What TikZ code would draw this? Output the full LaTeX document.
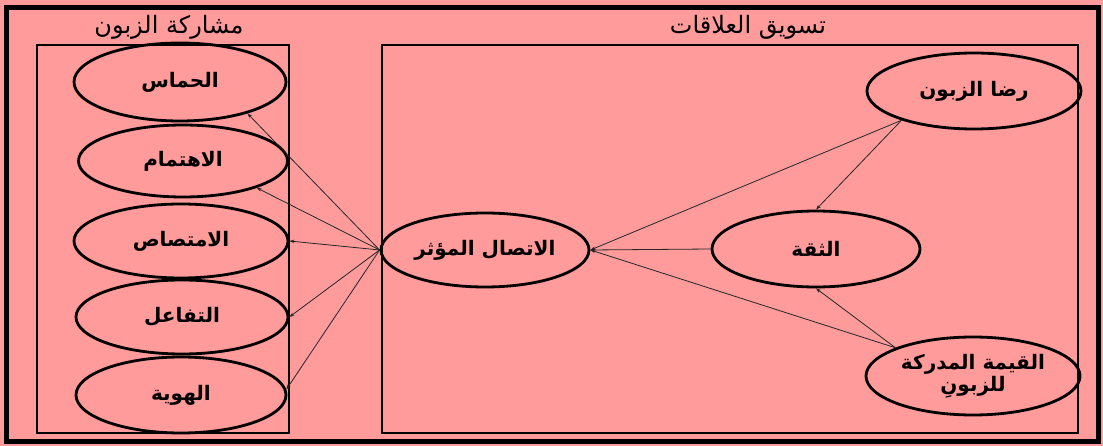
\documentclass[tikz,border=0pt]{standalone}
\usepackage{fontspec}
\usetikzlibrary{shapes.geometric,arrows.meta}
\TeXXeTstate=1
\newfontfamily\arabicfont[Script=Arabic]{DejaVu Sans}
\definecolor{bgpink}{RGB}{255,155,155}
\tikzset{
  oval/.style={ellipse, draw=black, line width=2.8pt, inner sep=0pt,
    font=\arabicfont\bfseries\fontsize{20}{24}\selectfont, align=center},
  frameline/.style={draw=black, line width=1.1pt},
  conn/.style={draw=black!85, line width=0.8pt, -{Stealth[length=5pt,width=3.5pt]}},
  title/.style={font=\arabicfont\fontsize{24}{28}\selectfont, inner sep=0pt}
}
\begin{document}
\begin{tikzpicture}[x=1pt,y=-1pt]
\useasboundingbox (0,0) rectangle (1103,446);
\fill[bgpink] (0,0) rectangle (1103,446);
\draw[line width=5pt] (6,8) rectangle (1098,441);
% inner boxes
\draw[frameline] (37,45) rectangle (289,433);
\draw[frameline] (382,45) rectangle (1078,433);
% titles
\node[title] (t1) at (169,27) {\beginR مشاركة الزبون\endR};
\node[title] (t2) at (748,27) {\beginR تسويق العلاقات\endR};
% left ellipses
\node[oval, minimum width=212pt, minimum height=78pt] (a1) at (180,82) {\beginR الحماس\endR};
\node[oval, minimum width=209pt, minimum height=72pt] (a2) at (183,161) {\beginR الاهتمام\endR};
\node[oval, minimum width=214pt, minimum height=74pt] (a3) at (181,241) {\beginR الامتصاص\endR};
\node[oval, minimum width=212pt, minimum height=74pt] (a4) at (182,317) {\beginR التفاعل\endR};
\node[oval, minimum width=210pt, minimum height=76pt] (a5) at (181,395) {\beginR الهوية\endR};
% middle and right
\node[oval, minimum width=208pt, minimum height=74pt] (m) at (485,250) {\beginR الاتصال المؤثر\endR};
\node[oval, minimum width=208pt, minimum height=76pt] (t) at (816,249) {\beginR الثقة\endR};
\node[oval, minimum width=214pt, minimum height=76pt] (r) at (974,91) {\beginR رضا الزبون\endR};
\node[oval, minimum width=214pt, minimum height=78pt, font=\arabicfont\bfseries\fontsize{20}{22}\selectfont] (q) at (973,376) {\beginR القيمة المدركة\endR\\\beginR للزبونِ\endR};
% connectors
\draw[conn] (m.west) -- (a1.-25);
\draw[conn] (m.west) -- (a2.-20);
\draw[conn] (m.west) -- (a3.east);
\draw[conn] (m.west) -- (a4.east);
\draw[conn] (m.west) -- (a5.3);
\draw[conn] (r.-158) -- (m.east);
\draw[conn] (t.west) -- (m.east);
\draw[conn] (q.160) -- (m.east);
\draw[conn] (r.-158) -- (t.north);
\draw[conn] (q.160) -- (t.south);
\end{tikzpicture}
\end{document}
